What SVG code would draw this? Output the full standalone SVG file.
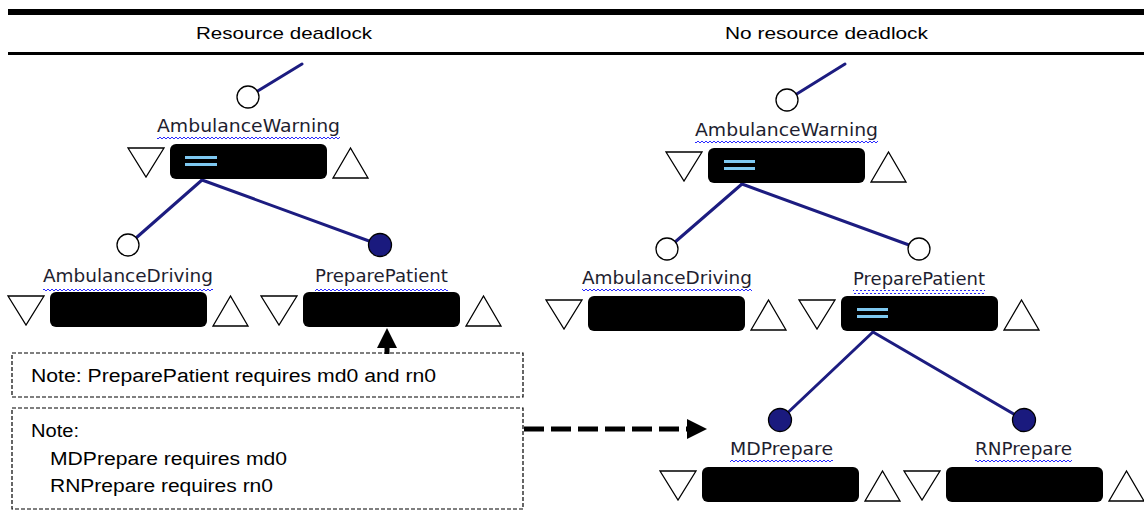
<svg xmlns="http://www.w3.org/2000/svg" width="1144" height="512" viewBox="0 0 1144 512">
<style>
.hdr{font-family:"Liberation Sans",Arial,sans-serif;font-size:17px;fill:#000}
.lbl{font-family:"DejaVu Sans",Verdana,sans-serif;font-size:17px;fill:#1e1e30}
.note{font-family:"Liberation Sans",Arial,sans-serif;font-size:18px;fill:#000}
.bar{fill:#000}
.tri{fill:#fff;stroke:#000;stroke-width:1.3}
.open{fill:#fff;stroke:#000;stroke-width:1.3}
.fill{fill:#1a1a7e;stroke:#000;stroke-width:1.3}
.eq{fill:#7ec8f0}
.con{stroke:#1c1c80;stroke-width:3;fill:none;stroke-linecap:round}
.box{fill:none;stroke:#000;stroke-width:1.2;stroke-dasharray:4 2}
.sq{fill:url(#sq)}
</style>
<defs>
<pattern id="sq" width="4" height="4" patternUnits="userSpaceOnUse">
<path d="M0 3 L2 1 L4 3" stroke="#2a2aff" stroke-width="1" fill="none"/>
</pattern>
<g id="tris">
<polygon class="tri" points="-42,4 -6,4 -24,33"/>
<polygon class="tri" points="163,34 198,34 180.5,4"/>
<rect class="bar" x="0" y="0" width="157" height="35" rx="6"/>
</g>
</defs>

<!-- header -->
<g id="header">
<rect x="8" y="9" width="1136" height="6" fill="#000"/>
<rect x="8" y="52" width="1136" height="3" fill="#000"/>
<text class="hdr" x="196" y="39" textLength="176" lengthAdjust="spacingAndGlyphs">Resource deadlock</text>
<text class="hdr" x="725" y="39" textLength="203" lengthAdjust="spacingAndGlyphs">No resource deadlock</text>
</g>

<!-- connectors -->
<g id="connectors">
<line class="con" x1="302" y1="64" x2="248" y2="97"/>
<line class="con" x1="202" y1="180" x2="128" y2="245"/>
<line class="con" x1="202" y1="180" x2="380" y2="245"/>
<line class="con" x1="845" y1="64" x2="787" y2="100"/>
<line class="con" x1="742" y1="184" x2="667" y2="249"/>
<line class="con" x1="742" y1="184" x2="920" y2="249"/>
<line class="con" x1="873" y1="332" x2="780" y2="420"/>
<line class="con" x1="873" y1="332" x2="1024" y2="420"/>
<line x1="387" y1="354" x2="387" y2="346" stroke="#000" stroke-width="5"/>
<polygon points="387,328 397,348 377,348" fill="#000"/>
<line x1="524" y1="429" x2="688" y2="429" stroke="#000" stroke-width="5" stroke-dasharray="20 7"/>
<polygon points="707,429 687,419 687,439" fill="#000"/>
</g>

<!-- left tree -->
<g id="L_AmbulanceWarning" transform="translate(170,144)">
<use href="#tris"/>
<rect class="eq" x="15" y="12" width="32" height="3"/>
<rect class="eq" x="15" y="19" width="32" height="3"/>
<circle class="open" cx="78" cy="-47" r="11"/>
<text class="lbl" x="-13" y="-12" textLength="183" lengthAdjust="spacingAndGlyphs">AmbulanceWarning</text>
<rect class="sq" x="-13" y="-7" width="183" height="4"/>
</g>
<g id="L_AmbulanceDriving" transform="translate(50,292)">
<use href="#tris"/>
<circle class="open" cx="78" cy="-47" r="11"/>
<text class="lbl" x="-7" y="-10" textLength="170" lengthAdjust="spacingAndGlyphs">AmbulanceDriving</text>
<rect class="sq" x="-7" y="-5" width="170" height="4"/>
</g>
<g id="L_PreparePatient" transform="translate(303,292)">
<use href="#tris"/>
<circle class="fill" cx="77" cy="-47" r="11.5"/>
<text class="lbl" x="12" y="-10" textLength="133" lengthAdjust="spacingAndGlyphs">PreparePatient</text>
<rect class="sq" x="12" y="-5" width="133" height="4"/>
</g>

<!-- right tree -->
<g id="R_AmbulanceWarning" transform="translate(708,148)">
<use href="#tris"/>
<rect class="eq" x="16" y="12" width="31" height="3"/>
<rect class="eq" x="16" y="19" width="31" height="3"/>
<circle class="open" cx="79" cy="-48" r="11"/>
<text class="lbl" x="-13" y="-12" textLength="183" lengthAdjust="spacingAndGlyphs">AmbulanceWarning</text>
<rect class="sq" x="-13" y="-7" width="183" height="4"/>
</g>
<g id="R_AmbulanceDriving" transform="translate(588,296)">
<use href="#tris"/>
<circle class="open" cx="79" cy="-47" r="11"/>
<text class="lbl" x="-6" y="-12" textLength="170" lengthAdjust="spacingAndGlyphs">AmbulanceDriving</text>
<rect class="sq" x="-6" y="-7" width="170" height="4"/>
</g>
<g id="R_PreparePatient" transform="translate(841,296)">
<use href="#tris"/>
<rect class="eq" x="16" y="12" width="31" height="3"/>
<rect class="eq" x="16" y="19" width="31" height="3"/>
<circle class="open" cx="78" cy="-47" r="11"/>
<text class="lbl" x="12" y="-11" textLength="132" lengthAdjust="spacingAndGlyphs">PreparePatient</text>
<rect class="sq" x="12" y="-6" width="132" height="4"/>
</g>
<g id="R_MDPrepare" transform="translate(702,467)">
<use href="#tris"/>
<circle class="fill" cx="78" cy="-47" r="11.5"/>
<text class="lbl" x="28" y="-12" textLength="103" lengthAdjust="spacingAndGlyphs">MDPrepare</text>
<rect class="sq" x="28" y="-7" width="103" height="4"/>
</g>
<g id="R_RNPrepare" transform="translate(946,467)">
<use href="#tris"/>
<circle class="fill" cx="78" cy="-47" r="11.5"/>
<text class="lbl" x="29" y="-12" textLength="97" lengthAdjust="spacingAndGlyphs">RNPrepare</text>
<rect class="sq" x="29" y="-7" width="97" height="4"/>
</g>

<!-- notes -->
<g id="note1">
<rect class="box" x="12" y="353" width="511" height="44"/>
<text class="note" x="31" y="382" textLength="405" lengthAdjust="spacingAndGlyphs">Note: PreparePatient requires md0 and rn0</text>
</g>
<g id="note2">
<rect class="box" x="12" y="408" width="511" height="101"/>
<text class="note" x="31" y="437" textLength="48" lengthAdjust="spacingAndGlyphs">Note:</text>
<text class="note" x="50" y="465" textLength="237" lengthAdjust="spacingAndGlyphs">MDPrepare requires md0</text>
<text class="note" x="50" y="492" textLength="223" lengthAdjust="spacingAndGlyphs">RNPrepare requires rn0</text>
</g>
</svg>
